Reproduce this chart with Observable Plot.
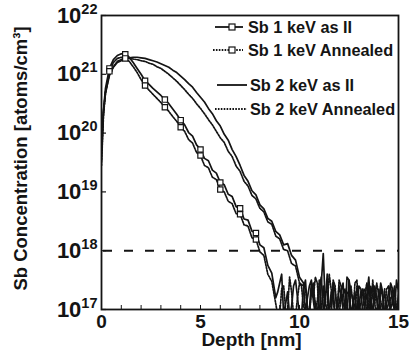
<!DOCTYPE html>
<html><head><meta charset="utf-8">
<script src="https://cdn.jsdelivr.net/npm/d3@7"></script>
<script src="https://cdn.jsdelivr.net/npm/@observablehq/plot@0.6"></script>
<style>
body{margin:0;background:#fff;}
#wrap{position:relative;width:409px;height:362px;}
svg text{font-weight:bold;}
</style></head><body><div id="wrap"></div>
<script>
// Depth grid [nm]
const depth = [0,0.1,0.2,0.4,0.6,0.8,1.0,1.2,1.4,1.6,1.8,2.0,2.2,2.4,2.6,2.8,3.0,3.2,3.4,3.6,3.8,4.0,4.2,4.4,4.6,4.8,5.0,5.2,5.4,5.6,5.8,6.0,6.2,6.4,6.6,6.8,7.0,7.2,7.4,7.6,7.8,8.0,8.2,8.4,8.6,8.8,9.0,9.2,9.4,9.6,9.8,10.0,10.2,10.4,10.6,10.8,11.0,11.2,11.4,11.6,11.8,12.0,12.2,12.4,12.6,12.8,13.0,13.2,13.4,13.6,13.8,14.0,14.2,14.4,14.6,14.8,15.0];
// extra in-between depths in the noisy tails
const tailDepth1 = [8.9,9.1,9.3,9.5,9.7,9.9,10.1,10.3,10.5,10.7,10.9,11.1,11.3,11.5,11.7,11.9,12.1,12.3,12.5,12.7,12.9,13.1,13.3,13.5,13.7,13.9,14.1,14.3,14.5,14.7,14.9];
const tailDepth2 = [10.3,10.5,10.7,10.9,11.1,11.3,11.5,11.7,11.9,12.1,12.3,12.5,12.7,12.9,13.1,13.3,13.5,13.7,13.9,14.1,14.3,14.5,14.7,14.9];

// log10 of Sb concentration [atoms/cm3]
const sb1AsII = [19.53,20.38,20.76,21.10,21.25,21.32,21.35,21.34,21.29,21.20,
  21.10,21.00,20.89,20.83,20.76,20.70,20.64,20.57,20.50,20.41,
  20.32,20.22,20.14,20.01,19.95,19.80,19.72,19.57,19.53,19.37,
  19.32,19.16,19.12,18.96,18.92,18.75,18.72,18.54,18.52,18.33,
  18.30,18.10,18.05,17.75,17.62,17.20,
  17.45,16.9,17.3,17.05,17.5,16.9,17.35,17.0,17.45,17.1,
  16.9,17.95,17.0,17.3,16.9,17.4,17.0,17.55,16.9,17.3,
  17.05,17.35,16.9,17.2,17.4,16.9,17.2,17.0,17.45,16.95,17.3];
const sb1AsIITail = [17.3,17.6,17.1,16.9,17.4,17.2,16.9,17.5,17.0,17.3,16.9,17.45,17.1,16.9,17.35,17.0,17.25,16.9,17.5,17.1,16.9,17.3,17.0,17.45,16.9,17.2,17.4,16.9,17.1,17.35,16.9];

const sb1Annealed = [19.45,20.30,20.69,21.05,21.20,21.27,21.29,21.27,21.22,21.13,
  21.03,20.91,20.81,20.73,20.66,20.59,20.52,20.44,20.37,20.28,
  20.20,20.10,20.03,19.89,19.83,19.67,19.62,19.45,19.41,19.25,
  19.21,19.04,19.00,18.84,18.80,18.63,18.62,18.44,18.42,18.22,
  18.19,17.98,17.92,17.60,17.48,
  17.1,16.9,17.4,17.0,17.3,16.9,17.45,17.05,16.9,17.35,
  17.0,17.5,16.9,17.3,17.05,17.4,16.9,17.25,17.0,17.4,
  16.9,17.2,17.05,17.45,16.9,17.1,17.35,17.0,16.9,17.2,17.4,17.0];
const sb1AnnealedTail = [16.9,17.35,17.0,17.55,16.9,17.2,17.4,17.0,16.9,17.45,17.15,16.9,17.3,17.05,17.5,16.9,17.2,17.35,16.9,17.1,17.4,16.9,17.25,17.0,17.5,16.9,17.15,17.35,16.9,17.2,17.0];

const sb2AsII = [19.87,20.38,20.69,20.98,21.12,21.20,21.23,21.26,21.28,21.29,
  21.29,21.28,21.27,21.25,21.23,21.21,21.18,21.15,21.12,21.07,
  21.03,20.97,20.91,20.84,20.78,20.69,20.61,20.53,20.42,20.33,
  20.21,20.12,19.98,19.88,19.72,19.60,19.45,19.28,19.18,19.02,
  18.95,18.78,18.71,18.55,18.50,18.33,18.27,18.10,18.12,17.92,
  17.84,17.55,17.45,
  17.2,17.5,16.9,17.35,17.0,17.6,16.9,17.3,17.1,17.45,
  16.9,17.3,17.05,17.4,16.9,17.25,17.0,17.35,16.9,17.3,17.1,17.4,17.0,17.3];
const sb2AsIITail = [16.95,17.4,17.15,16.9,17.55,17.1,16.9,17.45,17.0,17.3,16.9,17.5,17.15,16.9,17.35,17.05,17.55,16.9,17.2,17.45,16.9,17.3,17.1,17.5];

const sb2Annealed = [19.70,20.35,20.67,21.00,21.13,21.22,21.25,21.27,21.27,21.26,
  21.25,21.23,21.22,21.19,21.17,21.13,21.10,21.05,21.00,20.94,
  20.88,20.81,20.74,20.66,20.59,20.50,20.42,20.33,20.23,20.14,
  20.03,19.92,19.84,19.69,19.60,19.44,19.35,19.18,19.10,18.94,
  18.88,18.72,18.66,18.49,18.45,18.25,18.20,18.02,18.00,17.78,
  17.74,17.45,17.40,
  17.05,17.3,17.55,16.9,17.4,17.05,17.35,16.9,17.5,17.1,
  17.3,16.9,17.45,17.0,17.3,16.9,17.4,17.1,17.25,16.9,17.35,17.0,17.3,17.1];
const sb2AnnealedTail = [17.35,16.9,17.2,17.45,17.0,16.9,17.6,17.15,16.9,17.4,17.0,17.25,16.9,17.5,17.1,17.35,16.9,17.2,17.45,17.0,16.9,17.4,17.15,16.9];

const markerDepths = [0.4,1.2,2.2,3.2,4.0,5.0,6.0,7.0,7.8];
const xTickLabels = [0,5,10,15];
const xMinorTicks = [0,1,2,3,4,5,6,7,8,9,10,11,12,13,14,15];
const yTicks = [1e17,1e18,1e19,1e20,1e21,1e22];
const detectionLimit = [1e18];
const seriesNames = ["Sb 1 keV as II","Sb 1 keV Annealed","Sb 2 keV as II","Sb 2 keV Annealed"];

const toRows = (vals, tailD, tailV) => depth.map((d,i)=>({depth:d, conc: Math.pow(10, vals[i])}))
  .concat(tailD.map((d,i)=>({depth:d, conc: Math.pow(10, tailV[i])})))
  .sort((a,b)=>a.depth-b.depth);
const r1a = toRows(sb1AsII, tailDepth1, sb1AsIITail);
const r1n = toRows(sb1Annealed, tailDepth1, sb1AnnealedTail);
const r2a = toRows(sb2AsII, tailDepth2, sb2AsIITail);
const r2n = toRows(sb2Annealed, tailDepth2, sb2AnnealedTail);
const mk = rows => rows.filter(r => markerDepths.some(m => Math.abs(m - r.depth) < 1e-6));

const INK = "#141414";
const W = 409, H = 362, ML = 101, MR = 11, MT = 15, MB = 53;
const innerW = W - ML - MR, innerH = H - MT - MB;

const chart = Plot.plot({
  width: W, height: H,
  marginLeft: ML, marginRight: MR, marginTop: MT, marginBottom: MB,
  style: {fontFamily: "'Liberation Sans', Arial, sans-serif", fontSize: "19px", color: INK, background: "white"},
  x: {domain: [0, 15]},
  y: {type: "log", domain: [1e17, 1e22]},
  marks: [
    Plot.ruleY(detectionLimit, {stroke: INK, strokeWidth: 2, strokeDasharray: "9,12", insetLeft: 2}),
    Plot.line(r2a, {x: "depth", y: "conc", stroke: INK, strokeWidth: 1.7, clip: true}),
    Plot.line(r2n, {x: "depth", y: "conc", stroke: INK, strokeWidth: 1.7, strokeDasharray: "1.6,1.3", clip: true}),
    Plot.line(r1a, {x: "depth", y: "conc", stroke: INK, strokeWidth: 1.7, clip: true}),
    Plot.line(r1n, {x: "depth", y: "conc", stroke: INK, strokeWidth: 1.7, strokeDasharray: "1.6,1.3", clip: true}),
    Plot.dot(mk(r1a), {x: "depth", y: "conc", symbol: "square", r: 3, fill: "white", stroke: INK, strokeWidth: 1.2}),
    Plot.dot(mk(r1n), {x: "depth", y: "conc", symbol: "square", r: 3, fill: "white", stroke: INK, strokeWidth: 1.2}),
    Plot.ruleX(xMinorTicks, {stroke: INK, strokeWidth: 1, insetTop: innerH - 4}),
    Plot.ruleY(yTicks, {stroke: INK, strokeWidth: 1.2, insetRight: innerW - 5}),
    Plot.frame({stroke: INK, strokeWidth: 1.8}),
    Plot.axisX({ticks: xTickLabels, tickSize: 0, tickPadding: 5, label: null, tickFormat: d => String(d)}),
    Plot.axisY({ticks: yTicks, tickSize: 0, tickPadding: 4, label: null, tickFormat: d => String(Math.round(Math.log10(d)))}),
    Plot.text(["Depth [nm]"], {frameAnchor: "bottom", dy: 36, dx: 1.5, fontSize: 19, fontWeight: "bold", fill: INK}),
    Plot.text(["Sb Concentration [atoms/cm³]"], {frameAnchor: "left", textAnchor: "middle", dx: -80, dy: -4, rotate: -90, fontSize: 18.5, fontWeight: "bold", fill: INK})
  ]
});

// superscript exponents on y tick labels
d3.select(chart).selectAll('g[aria-label="y-axis tick label"] text').each(function(){
  const exp = this.textContent;
  const t = d3.select(this);
  t.text("").attr("font-size", 22);
  t.append("tspan").text("10");
  t.append("tspan").attr("dy", -9).attr("font-size", 14.5).text(exp);
});

// legend
const svg = d3.select(chart);
const leg = svg.append("g").attr("fill", INK).attr("font-size", 16.3).attr("font-weight", "bold").attr("text-anchor", "start");
const legendItems = [
  {y: 27, x1: 215, x2: 243, sq: 232, tx: 248, dash: null},
  {y: 50, x1: 213, x2: 243, sq: 232, tx: 248, dash: "1.6,1.3"},
  {y: 85, x1: 217, x2: 247, sq: null, tx: 250, dash: null},
  {y: 109, x1: 215, x2: 247, sq: null, tx: 250, dash: "1.6,1.3"}
];
legendItems.forEach((it, i) => {
  leg.append("line").attr("x1", it.x1).attr("x2", it.x2).attr("y1", it.y).attr("y2", it.y)
    .attr("stroke", INK).attr("stroke-width", 1.8).attr("stroke-dasharray", it.dash);
  if (it.sq) leg.append("rect").attr("x", it.sq - 3).attr("y", it.y - 3).attr("width", 6).attr("height", 6)
    .attr("fill", "white").attr("stroke", INK).attr("stroke-width", 1.2);
  leg.append("text").attr("x", it.tx).attr("y", it.y).attr("dy", "0.36em").text(seriesNames[i]);
});

document.getElementById("wrap").appendChild(chart);
</script>
</body></html>
